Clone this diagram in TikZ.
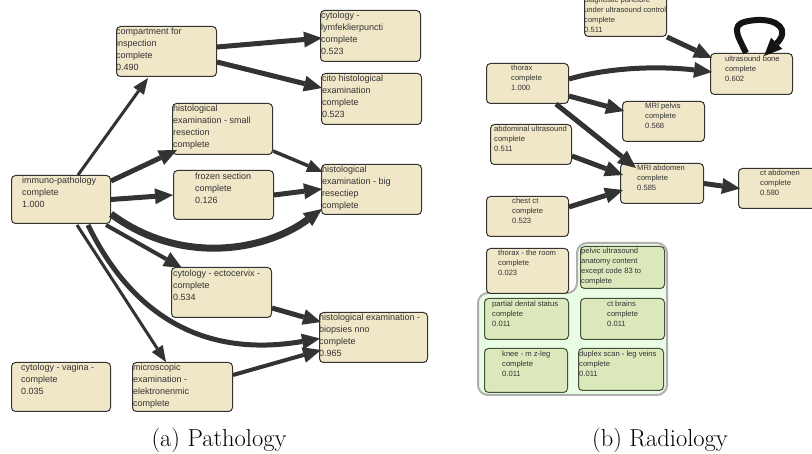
\documentclass[tikz,border=0pt]{standalone}
\usepackage{fontspec}
\newfontfamily\nodefont{Liberation Sans}
\usetikzlibrary{arrows.meta,calc}
\definecolor{beige}{RGB}{240,230,200}
\definecolor{edgec}{RGB}{51,51,51}
\definecolor{loopc}{RGB}{20,20,20}
\definecolor{grpfill}{RGB}{232,253,228}
\definecolor{grpline}{RGB}{175,175,175}
\definecolor{gnode}{RGB}{218,232,188}
\definecolor{gline}{RGB}{70,80,60}
\tikzset{
  pbox/.style={draw=edgec, line width=1pt, fill=beige, rounded corners=4pt, anchor=north west, inner sep=0pt},
  gbox/.style={draw=gline, line width=1pt, fill=gnode, rounded corners=4pt, anchor=north west, inner sep=0pt},
  ptxt/.style={anchor=north west, inner sep=0pt, align=left, text=edgec, font=\nodefont\fontsize{9}{12}\selectfont},
  rtxt/.style={anchor=north west, inner sep=0pt, align=left, text=edgec, font=\nodefont\fontsize{7.6}{10}\selectfont},
  arr/.style={draw=edgec, -{Triangle[length=18pt,width=16pt,line width=0pt]}},
  thinarr/.style={draw=edgec, -{Triangle[length=16pt,width=13pt,line width=0pt]}},
  grp/.style={draw=grpline, line width=2pt, fill=grpfill, rounded corners=10pt},
  captext/.style={anchor=base, inner sep=0pt, font=\fontsize{24.5}{28}\selectfont}
}
\begin{document}
\begin{tikzpicture}[x=1pt,y=-1pt]
\useasboundingbox (0,0) rectangle (812,454);
% ---------- Pathology ----------
\node[pbox, minimum width=100pt, minimum height=50pt] (cmp) at (116,26) {};
\node[ptxt] (cmpt) at (116,28) {compartment for\\inspection\\complete\\0.490};
\node[pbox, minimum width=100pt, minimum height=51pt] (lym) at (320,10) {};
\node[ptxt] (lymt) at (321,12) {cytology -\\lymfeklierpuncti\\complete\\0.523};
\node[pbox, minimum width=100pt, minimum height=51pt] (cito) at (321,73) {};
\node[ptxt] (citot) at (322,75) {cito histological\\examination\\complete\\0.523};
\node[pbox, minimum width=100pt, minimum height=51pt] (sml) at (172,103) {};
\node[ptxt] (smlt) at (173,105) {histological\\examination - small\\resection\\complete};
\node[pbox, minimum width=100pt, minimum height=49pt] (frz) at (173,170) {};
\node[ptxt] (frzt) at (195,173) {frozen section\\complete\\0.126};
\node[pbox, minimum width=100pt, minimum height=50pt] (big) at (321,164) {};
\node[ptxt] (bigt) at (322,166) {histological\\examination - big\\resectiep\\complete};
\node[pbox, minimum width=99pt, minimum height=48pt] (imm) at (11,175) {};
\node[ptxt] (immt) at (22,177) {immuno-pathology\\complete\\1.000};
\node[pbox, minimum width=100pt, minimum height=50pt] (ecto) at (171,267) {};
\node[ptxt] (ectot) at (173,270) {cytology - ectocervix -\\complete\\0.534};
\node[pbox, minimum width=108pt, minimum height=50pt] (bio) at (319,312) {};
\node[ptxt] (biot) at (319,314) {histological examination -\\biopsies nno\\complete\\0.965};
\node[pbox, minimum width=99pt, minimum height=49pt] (vag) at (11,362) {};
\node[ptxt] (vagt) at (21,364) {cytology - vagina -\\complete\\0.035};
\node[pbox, minimum width=100pt, minimum height=49pt] (mic) at (132,362) {};
\node[ptxt] (mict) at (133,364) {microscopic\\examination -\\elektronenmic\\complete};
% pathology edges
\draw[thinarr, line width=3pt] ($(imm.north west)+(67,0)$) -- ($(cmp.south west)+(32,1)$);
\draw[arr, line width=5pt] ($(imm.north east)+(0,6)$) -- ($(sml.south west)+(5,-5)$);
\draw[arr, line width=5pt] (imm.east) -- (frz.west);
\draw[arr, line width=7pt] ($(imm.south east)+(0,-10)$) .. controls ($(imm.south east)+(70,42)$) and ($(big.south west)+(-56,36)$) .. ($(big.south west)+(1,-6)$);
\draw[arr, line width=4pt] ($(imm.south east)+(-5,1)$) -- ($(ecto.north west)+(11,1)$);
\draw[arr, line width=5pt] ($(imm.south west)+(77,1)$) .. controls ($(imm.south west)+(114,77)$) and ($(bio.west)+(-129,23)$) .. ($(bio.west)+(1,1)$);
\draw[thinarr, line width=3pt] ($(imm.south west)+(66,1)$) -- ($(mic.north west)+(34,0)$);
\draw[arr, line width=5pt] ($(cmp.north east)+(0,21)$) -- ($(lym.north west)+(2,28)$);
\draw[arr, line width=5pt] ($(cmp.north east)+(0,36)$) -- ($(cito.north west)+(1,15)$);
\draw[thinarr, line width=3.5pt] ($(sml.south east)+(0,-4)$) -- ($(big.north west)+(2,8)$);
\draw[arr, line width=5pt] (frz.east) -- ($(big.north west)+(1,25)$);
\draw[arr, line width=5pt] ($(ecto.south east)+(0,-10)$) -- ($(bio.north west)+(2,10)$);
\draw[arr, line width=4pt] ($(mic.north east)+(0,13)$) -- ($(bio.north west)+(2,38)$);
% ---------- Radiology ----------
\draw[grp] (478,293) -- (478,395) -- (667,395) -- (667,243) -- (577,243) -- (577,293) -- cycle;
\node[pbox, minimum width=82pt, minimum height=51pt] (dia) at (584,-15) {};
\node[rtxt] (diat) at (584,-3) {diagnostic puncture\\under ultrasound control\\complete\\0.511};
\node[pbox, minimum width=82pt, minimum height=40pt] (tho) at (486,63) {};
\node[rtxt] (thot) at (511,65) {thorax\\complete\\1.000};
\node[pbox, minimum width=82pt, minimum height=41pt] (usb) at (710,53) {};
\node[rtxt] (usbt) at (725,56) {ultrasound bone\\complete\\0.602};
\node[pbox, minimum width=82pt, minimum height=40pt] (mrp) at (622,101) {};
\node[rtxt] (mrpt) at (645,103) {MRI pelvis\\complete\\0.568};
\node[pbox, minimum width=81pt, minimum height=40pt] (abd) at (490,124) {};
\node[rtxt] (abdt) at (494,126) {abdominal ultrasound\\complete\\0.511};
\node[pbox, minimum width=83pt, minimum height=40pt] (mra) at (620,163) {};
\node[rtxt] (mrat) at (637,165) {MRI abdomen\\complete\\0.585};
\node[pbox, minimum width=80pt, minimum height=40pt] (cta) at (738,168) {};
\node[rtxt] (ctat) at (760,170) {ct abdomen\\complete\\0.580};
\node[pbox, minimum width=82pt, minimum height=40pt] (cct) at (486,196) {};
\node[rtxt] (cctt) at (512,198) {chest ct\\complete\\0.523};
\node[pbox, minimum width=82pt, minimum height=45pt] (room) at (486,248) {};
\node[rtxt] (roomt) at (498,250) {thorax - the room\\complete\\0.023};
\node[gbox, minimum width=84pt, minimum height=42pt] (pel) at (580,246) {};
\node[rtxt] (pelt) at (581,248) {pelvic ultrasound\\anatomy content\\except code 83 to\\complete};
\node[gbox, minimum width=84pt, minimum height=41pt] (pds) at (484,298) {};
\node[rtxt] (pdst) at (492,301) {partial dental status\\complete\\0.011};
\node[gbox, minimum width=84pt, minimum height=41pt] (ctb) at (580,298) {};
\node[rtxt] (ctbt) at (607,301) {ct brains\\complete\\0.011};
\node[gbox, minimum width=83pt, minimum height=44pt] (knee) at (484,348) {};
\node[rtxt] (kneet) at (502,351) {knee - m z-leg\\complete\\0.011};
\node[gbox, minimum width=85pt, minimum height=42pt] (dup) at (578,348) {};
\node[rtxt] (dupt) at (579,351) {duplex scan - leg veins\\complete\\0.011};
% radiology edges
\draw[arr, line width=5pt] (dia.south east) -- ($(usb.north west)+(2,5)$);
\draw[arr, line width=5pt] ($(tho.north east)+(0,16)$) .. controls ($(tho.north east)+(42,4)$) and ($(usb.north west)+(-50,13)$) .. ($(usb.north west)+(2,19)$);
\draw[arr, line width=5pt] ($(tho.south east)+(0,-8)$) -- ($(mrp.north west)+(2,10)$);
\draw[arr, line width=5pt] ($(tho.south east)+(-13,0)$) -- ($(mra.north west)+(16,5)$);
\draw[arr, line width=5pt] ($(abd.south east)+(0,-9)$) -- ($(mra.north west)+(3,12)$);
\draw[arr, line width=5pt] ($(cct.north east)+(0,11)$) -- ($(mra.north west)+(3,27)$);
\draw[arr, line width=5pt] (mra.east) -- ($(cta.west)+(2,0)$);
\draw[arr, draw=loopc, line width=6pt] ($(usb.north west)+(36,0)$) .. controls ($(usb.north west)+(26,-21)$) and ($(usb.north west)+(18,-31)$) .. ($(usb.north west)+(47,-33)$) .. controls ($(usb.north west)+(68,-34)$) and ($(usb.north west)+(80,-23)$) .. ($(usb.north west)+(54,3)$);
% captions
\node[captext] (capa) at (219,447) {(a) Pathology};
\node[captext] (capb) at (660,447) {(b) Radiology};
\end{tikzpicture}
\end{document}
